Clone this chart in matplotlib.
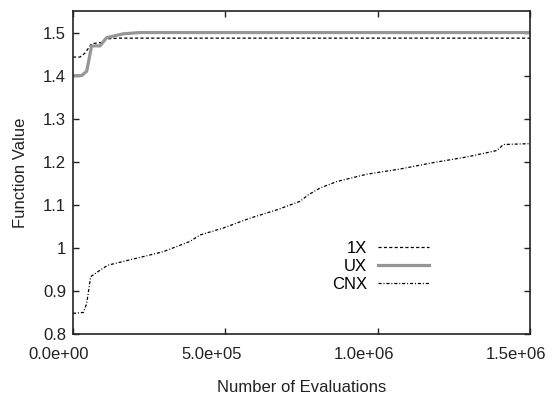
import matplotlib
matplotlib.use('Agg')
import matplotlib.pyplot as plt
from matplotlib.ticker import FuncFormatter
from matplotlib.transforms import ScaledTranslation

plt.rcParams['font.family'] = ['Liberation Sans', 'DejaVu Sans']

# --- data ---
x_1x = [0, 23000, 39000, 61000, 94000, 105000, 150000, 1500000]
y_1x = [1.443, 1.443, 1.452, 1.474, 1.477, 1.485, 1.487, 1.487]

x_ux = [0, 28000, 45000, 61000, 89000, 110000, 165000, 220000, 1500000]
y_ux = [1.400, 1.400, 1.410, 1.469, 1.469, 1.488, 1.497, 1.500, 1.500]

x_cnx = [0, 34000, 45000, 58000, 72000, 99000, 116000, 209000, 296000,
         384000, 417000, 493000, 581000, 668000, 745000, 772000, 811000,
         866000, 964000, 1073000, 1183000, 1292000, 1391000, 1413000, 1500000]
y_cnx = [0.848, 0.850, 0.871, 0.933, 0.940, 0.953, 0.960, 0.976, 0.991,
         1.015, 1.030, 1.046, 1.069, 1.088, 1.108, 1.123, 1.139,
         1.154, 1.171, 1.183, 1.198, 1.211, 1.226, 1.240, 1.242]

series_labels = ['1X', 'UX', 'CNX']
x_ticks = [0, 500000, 1000000, 1500000]
y_ticks = [0.8, 0.9, 1.0, 1.1, 1.2, 1.3, 1.4, 1.5]

FS = 12
TXT = '#222222'

fig = plt.figure(figsize=(5.52, 3.94), dpi=100)
ax = fig.add_axes([73/552, 60/394, 457/552, 323/394])

ax.plot(x_1x, y_1x, color='black', lw=0.9, dashes=(2.5, 1.8), label=series_labels[0])
ax.plot(x_ux, y_ux, color='#969696', lw=2.3, label=series_labels[1])
ax.plot(x_cnx, y_cnx, color='black', lw=0.9, dashes=(2.5, 1.5, 0.8, 1.5), label=series_labels[2])

ax.set_xlim(0, 1500000)
ax.set_ylim(0.8, 1.55)
ax.set_xticks(x_ticks)
ax.set_yticks(y_ticks)
ax.xaxis.set_major_formatter(FuncFormatter(lambda v, p: f'{v:.1e}'))
ax.yaxis.set_major_formatter(FuncFormatter(lambda v, p: f'{v:g}'))

for s in ax.spines.values():
    s.set_linewidth(1.2)
    s.set_color(TXT)
ax.tick_params(direction='in', top=True, right=True, length=4, width=1,
               labelsize=FS, colors=TXT)
ax.tick_params(axis='x', pad=9.5)
ax.tick_params(axis='y', pad=5)

# gnuplot put the x tick labels a little left of their ticks
shift = ScaledTranslation(-14/100, 0, fig.dpi_scale_trans)
for lbl in ax.get_xticklabels():
    lbl.set_transform(lbl.get_transform() + shift)

ax.set_xlabel('Number of Evaluations', fontsize=FS, color=TXT)
ax.set_ylabel('Function Value', fontsize=FS, color=TXT)
ax.xaxis.set_label_coords(0.5, -0.142)
ax.yaxis.set_label_coords(-0.098, 0.5)

ax.legend(loc='center right', bbox_to_anchor=(0.779, 0.208), frameon=False,
          markerfirst=False, fontsize=FS, handlelength=3.05, handletextpad=0.65,
          labelspacing=0.18, borderpad=0, borderaxespad=0)

plt.savefig('out.png', dpi=100)
